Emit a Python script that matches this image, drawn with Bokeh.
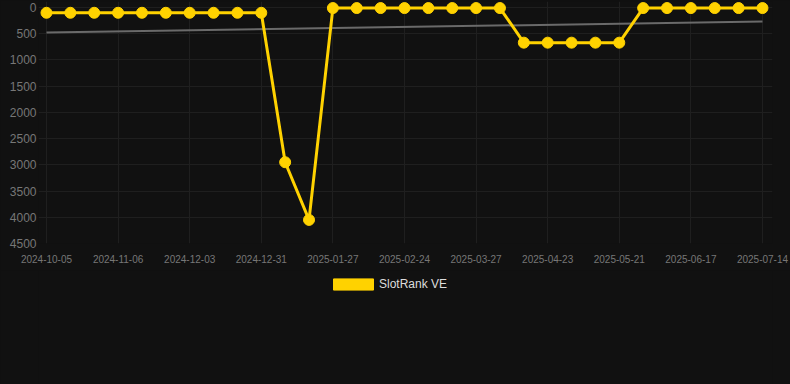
import numpy as np
from bokeh.plotting import figure
from bokeh.layouts import column
from bokeh.models import Range1d, FixedTicker, Legend, LegendItem, ColumnDataSource
from bokeh.embed import file_html
from bokeh.resources import INLINE

# ---- data ----
tick_labels = ["2024-10-05", "2024-11-06", "2024-12-03", "2024-12-31", "2025-01-27",
               "2025-02-24", "2025-03-27", "2025-04-23", "2025-05-21", "2025-06-17",
               "2025-07-14"]
ranks = [100, 100, 100, 100, 100, 100, 100, 100, 100, 100,
         2950, 4050,
         10, 10, 10, 10, 10, 10, 10, 10,
         670, 670, 670, 670, 670,
         10, 10, 10, 10, 10, 10]
series_name = "SlotRank VE"

x = list(range(len(ranks)))
coef = np.polyfit(x, ranks, 1)
trend_x = [x[0], x[-1]]
trend_y = [float(np.polyval(coef, x[0])), float(np.polyval(coef, x[-1]))]

BG = "#111111"
YELLOW = "#FFD200"
FONT = "Liberation Sans"

p = figure(width=790, height=270, output_backend="svg", toolbar_location=None,
           x_range=Range1d(-0.335, 30.42), y_range=Range1d(4500, -115))
p.background_fill_color = BG
p.border_fill_color = BG
p.outline_line_color = None
p.styles = {"background-color": BG}
p.min_border_top = 1
p.min_border_left = 38
p.min_border_right = 18
p.min_border_bottom = 27

p.line(trend_x, trend_y, line_color="#6a6a6a", line_width=2)
src = ColumnDataSource(dict(x=x, y=ranks))
p.line("x", "y", source=src, line_color=YELLOW, line_width=3)
p.scatter("x", "y", source=src, size=11, fill_color=YELLOW, line_color=YELLOW)

ticks = list(range(0, len(ranks), 3))
p.xaxis.ticker = FixedTicker(ticks=ticks)
p.xaxis.major_label_overrides = {t: lab for t, lab in zip(ticks, tick_labels)}
p.yaxis.ticker = FixedTicker(ticks=list(range(0, 4501, 500)))

for ax in (p.xaxis, p.yaxis):
    ax.axis_line_color = None
    ax.major_tick_line_color = None
    ax.minor_tick_line_color = None
    ax.major_tick_out = 0
    ax.major_tick_in = 0
    ax.major_label_text_font = FONT
    ax.major_label_text_color = "#777777"
p.xaxis.major_label_text_font_size = "10px"
p.yaxis.major_label_text_font_size = "12px"
p.yaxis.major_label_standoff = 2
p.xaxis.major_label_standoff = 11

p.xgrid.ticker = FixedTicker(ticks=ticks)
p.grid.grid_line_color = "#1f1f1f"
p.grid.grid_line_width = 1

# legend strip below the chart
q = figure(width=790, height=114, output_backend="svg", toolbar_location=None,
           x_range=Range1d(0, 1), y_range=Range1d(0, 1))
q.background_fill_color = BG
q.border_fill_color = BG
q.outline_line_color = None
q.styles = {"background-color": BG}
q.axis.visible = False
q.grid.visible = False
q.min_border = 0
dummy_src = ColumnDataSource(dict(l=[5], r=[6], t=[6], b=[5]))
dummy = q.quad(left="l", right="r", top="t", bottom="b", source=dummy_src,
               fill_color=YELLOW, line_color=YELLOW)
legend = Legend(items=[LegendItem(label=series_name, renderers=[dummy])],
                orientation="horizontal", location=(290, 93),
                background_fill_alpha=0, border_line_color=None,
                glyph_width=50, glyph_height=14, label_standoff=1,
                label_text_color="#dddddd", label_text_font=FONT,
                label_text_font_size="12px", margin=0, padding=4, spacing=0)
q.add_layout(legend, "center")

layout = column(p, q, spacing=0)
layout.styles = {"background-color": BG}
open("out.html", "w").write(file_html(layout, INLINE))
